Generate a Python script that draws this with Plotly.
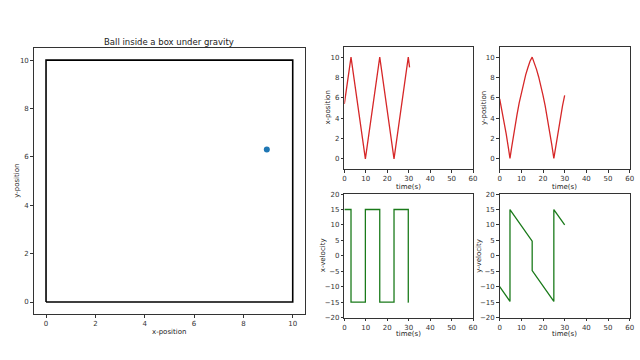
import plotly.graph_objects as go

# Box outline (data units)
box_x = [0, 10, 10, 0, 0]
box_y = [0, 0, 10, 10, 0]
# Ball position
ball_x = [8.95]
ball_y = [6.3]

# x-position vs time
xpos_t = [0, 3.1, 9.8, 16.5, 23.15, 29.8, 30.4]
xpos_v = [5.4, 10, 0, 10, 0, 10, 9.0]

# y-position vs time
ypos_t = [0, 1, 2, 3, 4, 4.75, 5.5, 6.5, 8, 9, 10, 11, 12, 13, 14, 15,
          16, 17, 18, 19, 20, 21, 22, 23, 24, 25, 26, 27, 28, 29, 30]
ypos_v = [5.9, 4.85, 3.7, 2.45, 1.1, 0.05, 1.1, 2.5, 4.35, 5.5, 6.5, 7.45, 8.25, 8.95, 9.6, 10.0,
          9.45, 8.8, 8.05, 7.2, 6.25, 5.2, 4.05, 2.8, 1.45, 0.05, 1.45, 2.8, 4.05, 5.2, 6.25]

# x-velocity vs time
xvel_t = [0, 3.1, 3.1, 9.8, 9.8, 16.5, 16.5, 23.15, 23.15, 29.8, 29.8, 30.0]
xvel_v = [15, 15, -15, -15, 15, 15, -15, -15, 15, 15, -15, -15]

# y-velocity vs time
yvel_t = [0, 4.75, 4.75, 15, 15, 25, 25, 30]
yvel_v = [-10, -14.75, 15, 4.75, -4.75, -14.75, 15, 10]

FONT = "DejaVu Sans"
RED = "#d62728"
GREEN = "#1a7a1a"
TXT = "#222222"

fig = go.Figure()
fig.add_trace(go.Scatter(x=box_x, y=box_y, mode="lines", line=dict(color="black", width=1.6),
                         xaxis="x", yaxis="y", showlegend=False))
fig.add_trace(go.Scatter(x=ball_x, y=ball_y, mode="markers", marker=dict(color="#1f77b4", size=6),
                         xaxis="x", yaxis="y", showlegend=False))
fig.add_trace(go.Scatter(x=xpos_t, y=xpos_v, mode="lines", line=dict(color=RED, width=1.3),
                         xaxis="x2", yaxis="y2", showlegend=False))
fig.add_trace(go.Scatter(x=ypos_t, y=ypos_v, mode="lines", line=dict(color=RED, width=1.3),
                         xaxis="x3", yaxis="y3", showlegend=False))
fig.add_trace(go.Scatter(x=xvel_t, y=xvel_v, mode="lines", line=dict(color=GREEN, width=1.3),
                         xaxis="x4", yaxis="y4", showlegend=False))
fig.add_trace(go.Scatter(x=yvel_t, y=yvel_v, mode="lines", line=dict(color=GREEN, width=1.3),
                         xaxis="x5", yaxis="y5", showlegend=False))

def ax(domain, rng, dtick, anchor):
    return dict(domain=domain, range=rng, dtick=dtick, tick0=0, anchor=anchor,
                showgrid=False, zeroline=False, showline=True, mirror=True,
                linecolor="#333333", linewidth=1, ticks="outside", ticklen=2.5,
                tickcolor="#333333", tickfont=dict(family=FONT, size=7, color="#333333"))

c1 = [0.540, 0.743]
c2 = [0.785, 0.990]
r1 = [0.531, 0.878]
r2 = [0.109, 0.460]

def label(text, xp, yp, angle=0, size=7):
    return dict(text=text, x=xp / 640, y=1 - yp / 360, xref="paper", yref="paper",
                showarrow=False, xanchor="center", yanchor="middle", textangle=angle,
                font=dict(family=FONT, size=size, color=TXT))

annotations = [
    label("Ball inside a box under gravity", 169, 39, size=8.5),
    label("x-position", 169, 335),
    label("y-position", 15, 181, -90),
    label("time(s)", 410, 187),
    label("time(s)", 568, 187),
    label("time(s)", 410, 338),
    label("time(s)", 568, 338),
    label("x-position", 329, 106, -90),
    label("y-position", 486, 106, -90),
    label("x-velocity", 324, 257, -90),
    label("y-velocity", 482, 257, -90),
]

fig.update_layout(
    width=640, height=360,
    margin=dict(l=0, r=0, t=0, b=0),
    paper_bgcolor="white", plot_bgcolor="white",
    xaxis=ax([0.05, 0.478], [-0.5, 10.5], 2, "y"),
    yaxis=ax([0.119, 0.875], [-0.5, 10.5], 2, "x"),
    xaxis2=ax(c1, [0, 60], 10, "y2"),
    yaxis2=ax(r1, [-1, 11], 2, "x2"),
    xaxis3=ax(c2, [0, 60], 10, "y3"),
    yaxis3=ax(r1, [-1, 11], 2, "x3"),
    xaxis4=ax(c1, [0, 60], 10, "y4"),
    yaxis4=ax(r2, [-20, 20], 5, "x4"),
    xaxis5=ax(c2, [0, 60], 10, "y5"),
    yaxis5=ax(r2, [-20, 20], 5, "x5"),
    annotations=annotations,
)

fig.write_html("out.html")
